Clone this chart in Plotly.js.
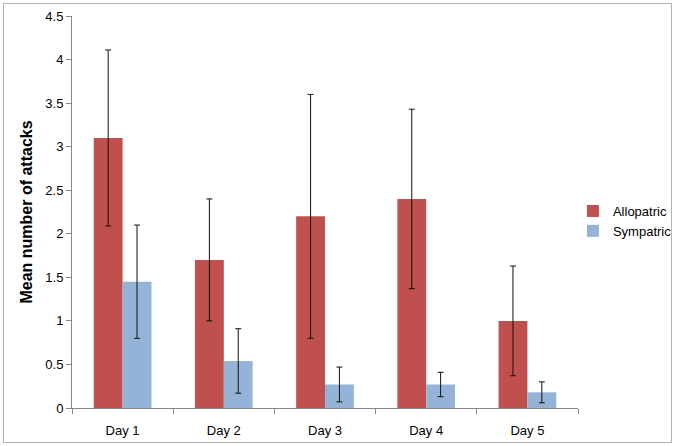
<!DOCTYPE html>
<html>
<head>
<meta charset="utf-8">
<script src="https://cdn.plot.ly/plotly-3.0.1.min.js"></script>
<style>
html,body{margin:0;padding:0;background:#fff;}
#chart{width:675px;height:446px;}
#frame{position:absolute;left:3px;top:3px;width:667px;height:438px;border:1px solid #b3b3b3;pointer-events:none;}
</style>
</head>
<body>
<div id="chart"></div>
<div id="frame"></div>
<script>
const categories = ["Day 1", "Day 2", "Day 3", "Day 4", "Day 5"];
const allopatric = [3.1, 1.7, 2.2, 2.4, 1.0];
const allopatricErr = [1.01, 0.7, 1.4, 1.03, 0.63];
const sympatric = [1.45, 0.54, 0.27, 0.27, 0.18];
const sympatricErr = [0.65, 0.37, 0.2, 0.14, 0.12];
const yTicks = [0, 0.5, 1, 1.5, 2, 2.5, 3, 3.5, 4, 4.5];

const errStyle = {type: "data", visible: true, color: "#111", thickness: 1, width: 3};

const traces = [
  {type: "bar", name: "Allopatric", x: categories, y: allopatric,
   marker: {color: "#c0504d"},
   error_y: Object.assign({array: allopatricErr}, errStyle)},
  {type: "bar", name: "Sympatric", x: categories, y: sympatric,
   marker: {color: "#95b3d7"},
   error_y: Object.assign({array: sympatricErr}, errStyle)}
];

const layout = {
  width: 675, height: 446,
  margin: {l: 72, r: 97, t: 16, b: 38, autoexpand: false},
  paper_bgcolor: "#fff", plot_bgcolor: "#fff",
  barmode: "group", bargap: 0.43, bargroupgap: 0,
  font: {family: "Liberation Sans, Arial, sans-serif", size: 13, color: "#000"},
  showlegend: true,
  legend: {x: 0.99, xanchor: "left", y: 0.477, yanchor: "middle",
           font: {size: 13, color: "#000"}, tracegroupgap: 4, itemwidth: 30},
  xaxis: {
    type: "category", showgrid: false, zeroline: false,
    showline: true, linecolor: "#868686", linewidth: 1,
    ticks: "outside", tickson: "boundaries", ticklen: 5, tickcolor: "#868686",
    tickfont: {size: 13}, ticklabelstandoff: 10
  },
  yaxis: {
    range: [0, 4.5], tickvals: yTicks, ticktext: yTicks.map(String),
    showgrid: false, zeroline: false,
    showline: true, linecolor: "#868686", linewidth: 1,
    ticks: "outside", ticklen: 5, tickcolor: "#868686",
    tickfont: {size: 13},
    title: {text: "<b>Mean number of attacks</b>", font: {size: 16}, standoff: 8}
  }
};

Plotly.newPlot("chart", traces, layout, {displayModeBar: false, staticPlot: true});
</script>
</body>
</html>
